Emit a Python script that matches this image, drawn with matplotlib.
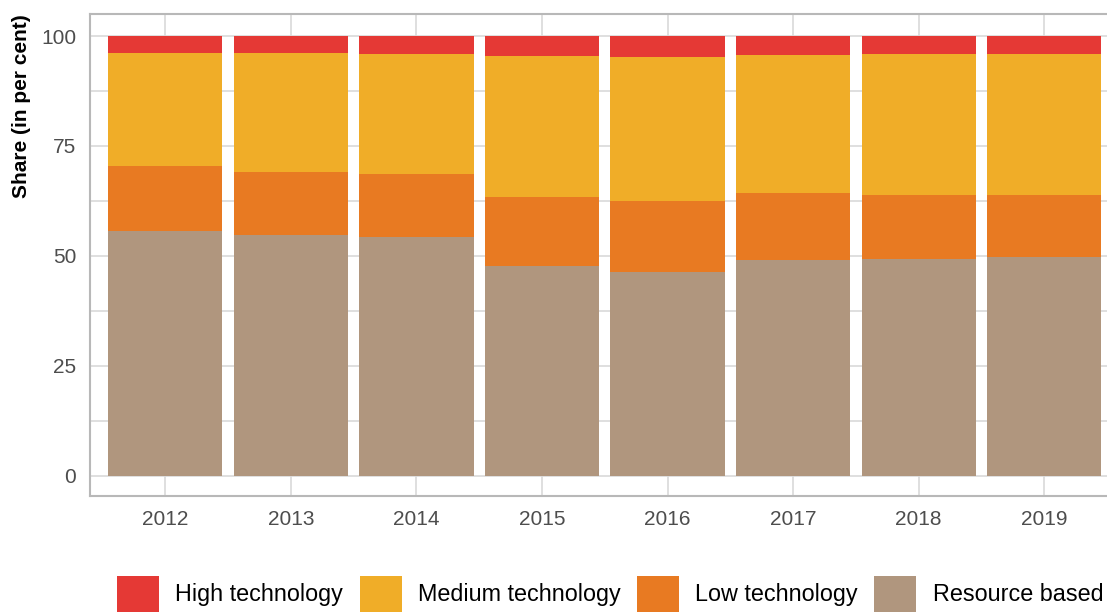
import numpy as np
import matplotlib
matplotlib.use('Agg')
import matplotlib.pyplot as plt

plt.rcParams['font.family'] = ['Liberation Sans', 'DejaVu Sans']

years = ['2012', '2013', '2014', '2015', '2016', '2017', '2018', '2019']
resource_based = [55.7, 54.8, 54.3, 47.7, 46.4, 49.1, 49.3, 49.8]
low_tech = [14.8, 14.3, 14.3, 15.7, 16.1, 15.2, 14.6, 14.1]
medium_tech = [25.6, 27.0, 27.3, 32.05, 32.7, 31.4, 32.0, 32.0]
high_tech = [3.9, 3.9, 4.1, 4.55, 4.8, 4.3, 4.1, 4.1]

colors = {
    'High technology': '#E53935',
    'Medium technology': '#F0AD28',
    'Low technology': '#E87A22',
    'Resource based': '#B0967E',
}

fig = plt.figure(figsize=(11.07, 6.12), dpi=100)
ax = fig.add_axes([0.0813, 0.1895, 0.93, 0.7875])

x = np.arange(len(years))
width = 0.91
bottom = np.zeros(len(years))
handles = {}
for name, vals in [('Resource based', resource_based), ('Low technology', low_tech),
                   ('Medium technology', medium_tech), ('High technology', high_tech)]:
    handles[name] = ax.bar(x, vals, width, bottom=bottom, color=colors[name], zorder=2, linewidth=0)
    bottom += np.array(vals)

ax.set_xlim(-0.6, 7.6)
ax.set_ylim(-4.6, 105)
ax.set_xticks(x)
ax.set_xticklabels(years)
ax.set_yticks([0, 25, 50, 75, 100])
ax.set_yticks([12.5, 37.5, 62.5, 87.5], minor=True)
ax.grid(True, which='both', color='#d9d9d9', linewidth=1.2, zorder=0)
ax.tick_params(which='both', length=0, labelsize=15, labelcolor='#4d4d4d', pad=10)
for s in ['left', 'bottom', 'top']:
    ax.spines[s].set_color('#b8b8b8')
    ax.spines[s].set_linewidth(1.5)
ax.spines['right'].set_visible(False)
ax.set_ylabel('Share (in per cent)', fontsize=15, fontweight='bold', labelpad=7, loc='top')

order = ['High technology', 'Medium technology', 'Low technology', 'Resource based']
fig.legend([handles[k] for k in order], order, loc='lower left', bbox_to_anchor=(0.1057, 0.0),
           ncol=4, frameon=False, fontsize=16.8, handlelength=1.8, handleheight=2.0,
           handletextpad=0.7, columnspacing=0.7, borderpad=0, borderaxespad=0)

fig.savefig('out.png', dpi=100)
